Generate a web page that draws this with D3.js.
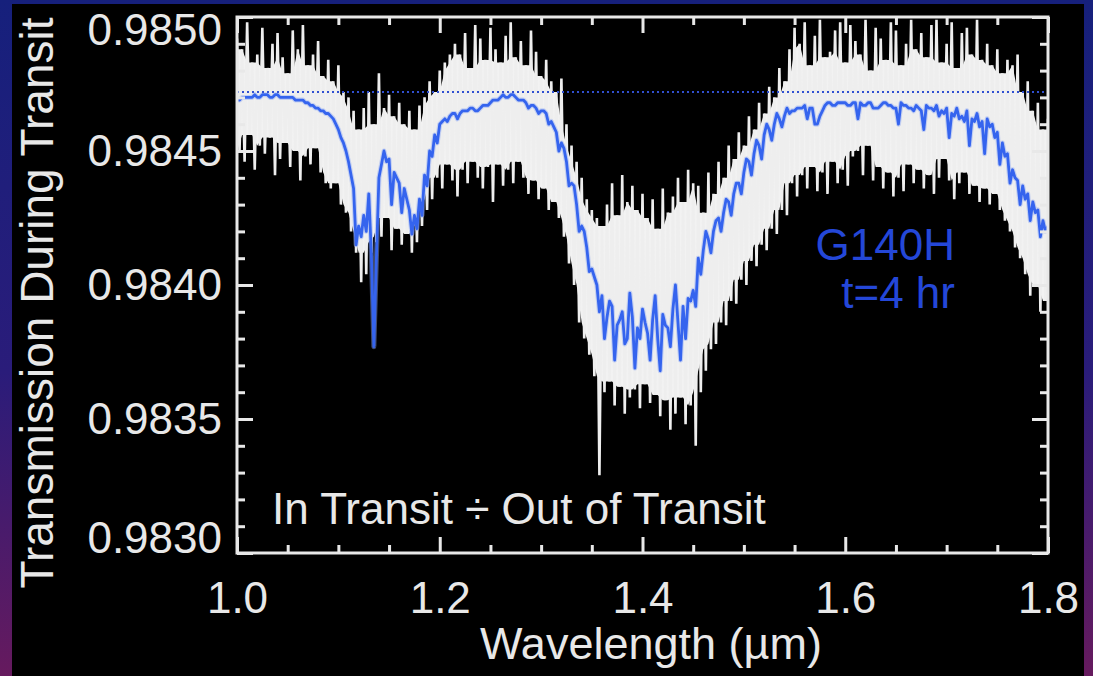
<!DOCTYPE html>
<html>
<head>
<meta charset="utf-8">
<script src="https://cdn.jsdelivr.net/npm/d3@7"></script>
<style>
  html, body { margin: 0; padding: 0; background: #000; overflow: hidden; }
  svg { display: block; }
  text { font-family: "Liberation Sans", Arial, Helvetica, sans-serif; }
</style>
</head>
<body>
<script>
// wavelength grid (micron), one sample every 0.005
const wavelength = d3.range(161).map(i => +(1 + i * 0.005).toFixed(3));

// in transit / out of transit, upper and lower excursion of the noisy spectrum
const whiteHi = [
  0.98492,0.98488,0.98498,0.98483,0.98486,0.98496,0.98481,0.98490,0.98494,0.98485,
  0.98479,0.98495,0.98488,0.98497,0.98482,0.98486,0.98491,0.98478,0.98484,0.98476,
  0.98482,0.98472,0.98470,0.98465,0.98458,0.98466,0.98472,0.98460,0.98479,0.98466,
  0.98471,0.98463,0.98468,0.98460,0.98465,0.98458,0.98467,0.98470,0.98476,0.98472,
  0.98480,0.98483,0.98486,0.98490,0.98486,0.98494,0.98481,0.98497,0.98492,0.98484,
  0.98496,0.98488,0.98483,0.98493,0.98498,0.98485,0.98491,0.98482,0.98495,0.98487,
  0.98478,0.98484,0.98476,0.98472,0.98477,0.98460,0.98452,0.98446,0.98440,0.98432,
  0.98428,0.98425,0.98422,0.98430,0.98438,0.98426,0.98441,0.98431,0.98437,0.98428,
  0.98434,0.98425,0.98432,0.98421,0.98436,0.98427,0.98433,0.98440,0.98431,0.98443,
  0.98438,0.98437,0.98427,0.98442,0.98434,0.98446,0.98440,0.98452,0.98447,0.98457,
  0.98452,0.98463,0.98458,0.98468,0.98464,0.98474,0.98470,0.98481,0.98476,0.98488,
  0.98496,0.98490,0.98498,0.98482,0.98493,0.98499,0.98485,0.98487,0.98495,0.98498,
  0.98483,0.98497,0.98491,0.98486,0.98499,0.98480,0.98496,0.98492,0.98484,0.98498,
  0.98495,0.98482,0.98490,0.98499,0.98488,0.98494,0.98485,0.98497,0.98499,0.98483,
  0.98490,0.98498,0.98481,0.98494,0.98496,0.98486,0.98499,0.98484,0.98490,0.98482,
  0.98488,0.98479,0.98484,0.98482,0.98486,0.98472,0.98476,0.98465,0.98468,0.98458,
  0.98462
];
const whiteLo = [
  0.98450,0.98446,0.98456,0.98443,0.98452,0.98449,0.98455,0.98441,0.98447,0.98453,
  0.98444,0.98450,0.98439,0.98448,0.98445,0.98451,0.98442,0.98438,0.98436,0.98438,
  0.98430,0.98427,0.98420,0.98412,0.98401,0.98404,0.98412,0.98416,0.98418,0.98425,
  0.98413,0.98421,0.98415,0.98419,0.98412,0.98416,0.98422,0.98428,0.98432,0.98440,
  0.98436,0.98445,0.98439,0.98433,0.98443,0.98438,0.98446,0.98440,0.98436,0.98444,
  0.98431,0.98445,0.98437,0.98443,0.98438,0.98446,0.98440,0.98434,0.98439,0.98432,
  0.98436,0.98428,0.98431,0.98425,0.98418,0.98408,0.98400,0.98386,0.98380,0.98374,
  0.98366,0.98329,0.98360,0.98364,0.98355,0.98362,0.98352,0.98358,0.98361,0.98354,
  0.98363,0.98356,0.98359,0.98351,0.98357,0.98346,0.98352,0.98358,0.98348,0.98355,
  0.98340,0.98360,0.98368,0.98376,0.98378,0.98386,0.98385,0.98394,0.98393,0.98402,
  0.98400,0.98409,0.98407,0.98415,0.98413,0.98421,0.98419,0.98428,0.98426,0.98438,
  0.98433,0.98441,0.98436,0.98444,0.98435,0.98442,0.98434,0.98446,0.98438,0.98443,
  0.98437,0.98448,0.98450,0.98441,0.98452,0.98439,0.98444,0.98436,0.98442,0.98433,
  0.98440,0.98435,0.98445,0.98438,0.98443,0.98436,0.98441,0.98434,0.98440,0.98447,
  0.98439,0.98432,0.98438,0.98442,0.98434,0.98437,0.98431,0.98436,0.98430,0.98434,
  0.98428,0.98424,0.98420,0.98414,0.98410,0.98404,0.98396,0.98400,0.98390,0.98394,
  0.98388
];
// model transmission (blue), on the grid and half a step after it
const model = [
  0.98469,0.98470,0.98470,0.98470,0.98470,0.98471,0.98471,0.98470,0.98471,0.98470,
  0.98470,0.98470,0.98469,0.98469,0.98468,0.98467,0.98466,0.98465,0.98464,0.98462,
  0.98458,0.98453,0.98446,0.98436,0.98422,0.98426,0.98434,0.98377,0.98440,0.98450,
  0.98447,0.98442,0.98438,0.98436,0.98428,0.98426,0.98432,0.98441,0.98450,0.98456,
  0.98460,0.98462,0.98463,0.98464,0.98464,0.98465,0.98466,0.98465,0.98466,0.98467,
  0.98468,0.98469,0.98470,0.98470,0.98471,0.98470,0.98469,0.98468,0.98467,0.98466,
  0.98465,0.98464,0.98461,0.98457,0.98453,0.98446,0.98438,0.98430,0.98422,0.98414,
  0.98406,0.98400,0.98396,0.98388,0.98392,0.98385,0.98390,0.98380,0.98388,0.98384,
  0.98391,0.98382,0.98387,0.98380,0.98389,0.98384,0.98391,0.98386,0.98392,0.98395,
  0.98398,0.98410,0.98413,0.98417,0.98420,0.98425,0.98427,0.98431,0.98434,0.98438,
  0.98442,0.98446,0.98449,0.98452,0.98456,0.98458,0.98460,0.98462,0.98463,0.98464,
  0.98465,0.98466,0.98467,0.98466,0.98460,0.98463,0.98467,0.98468,0.98467,0.98468,
  0.98468,0.98467,0.98468,0.98468,0.98467,0.98468,0.98466,0.98467,0.98468,0.98467,
  0.98466,0.98468,0.98467,0.98466,0.98467,0.98465,0.98467,0.98466,0.98467,0.98465,
  0.98466,0.98464,0.98466,0.98463,0.98465,0.98462,0.98464,0.98461,0.98462,0.98460,
  0.98457,0.98453,0.98449,0.98443,0.98439,0.98437,0.98434,0.98431,0.98428,0.98424,
  0.98422
];
const modelMid = [
  0.98469,0.98470,0.98470,0.98471,0.98470,0.98471,0.98470,0.98471,0.98470,0.98470,
  0.98470,0.98469,0.98469,0.98468,0.98467,0.98466,0.98465,0.98464,0.98463,0.98460,
  0.98455,0.98450,0.98441,0.98415,0.98418,0.98420,0.98412,0.98410,0.98445,0.98446,
  0.98430,0.98440,0.98427,0.98432,0.98419,0.98421,0.98426,0.98437,0.98448,0.98453,
  0.98461,0.98461,0.98464,0.98462,0.98465,0.98465,0.98466,0.98465,0.98467,0.98467,
  0.98469,0.98469,0.98471,0.98470,0.98471,0.98469,0.98469,0.98466,0.98467,0.98464,
  0.98465,0.98460,0.98459,0.98450,0.98451,0.98437,0.98437,0.98420,0.98420,0.98405,
  0.98403,0.98390,0.98380,0.98394,0.98372,0.98387,0.98378,0.98397,0.98369,0.98380,
  0.98386,0.98372,0.98396,0.98368,0.98385,0.98377,0.98400,0.98372,0.98380,0.98394,
  0.98392,0.98404,0.98420,0.98412,0.98424,0.98420,0.98432,0.98426,0.98438,0.98434,
  0.98447,0.98441,0.98454,0.98447,0.98460,0.98454,0.98464,0.98459,0.98466,0.98465,
  0.98466,0.98466,0.98462,0.98466,0.98460,0.98465,0.98468,0.98467,0.98468,0.98468,
  0.98467,0.98468,0.98462,0.98467,0.98468,0.98466,0.98466,0.98468,0.98467,0.98466,
  0.98460,0.98467,0.98466,0.98465,0.98466,0.98458,0.98466,0.98465,0.98463,0.98464,
  0.98455,0.98463,0.98462,0.98461,0.98452,0.98461,0.98459,0.98449,0.98459,0.98455,
  0.98445,0.98448,0.98438,0.98440,0.98430,0.98432,0.98424,0.98427,0.98418,0.98420
];
const outOfTransitLevel = 0.98472;

const xMajor = [1.0, 1.2, 1.4, 1.6, 1.8];
const yMajor = [0.9830, 0.9835, 0.9840, 0.9845, 0.9850];

const W = 1093, H = 676;
const svg = d3.select("body").append("svg").attr("width", W).attr("height", H);

// slide background
const defs = svg.append("defs");
const grad = defs.append("linearGradient")
  .attr("id", "slide").attr("x1", 0).attr("y1", 0).attr("x2", 0).attr("y2", 1);
grad.append("stop").attr("offset", "0%").attr("stop-color", "#16207c");
grad.append("stop").attr("offset", "55%").attr("stop-color", "#2a1c7a");
grad.append("stop").attr("offset", "100%").attr("stop-color", "#661a5e");
svg.append("rect").attr("width", W).attr("height", H).attr("fill", "url(#slide)");
svg.append("rect").attr("x", 12).attr("y", 4).attr("width", 1072).attr("height", 672).attr("fill", "#000");

const x = d3.scaleLinear().domain([1.0, 1.8]).range([237, 1048]);
const y = d3.scaleLinear().domain([0.9830, 0.9850]).range([553, 17]);

defs.append("clipPath").attr("id", "plot")
  .append("rect").attr("x", x(1.0)).attr("y", y(0.9850))
  .attr("width", x(1.8) - x(1.0)).attr("height", y(0.9830) - y(0.9850));

const plot = svg.append("g").attr("clip-path", "url(#plot)");

// solid core of the noisy spectrum: inner envelope of neighbouring excursions
const win = i => d3.range(Math.max(0, i - 1), Math.min(wavelength.length, i + 2));
const core = wavelength.map((w, i) => ({
  w,
  top: d3.min(win(i), j => whiteHi[j]),
  bot: d3.max(win(i), j => whiteLo[j])
}));
plot.append("path").datum(core)
  .attr("d", d3.area().x(d => x(d.w)).y0(d => y(d.bot)).y1(d => y(d.top)))
  .attr("fill", "#f2f2f2");

// excursions drawn as hi/lo zigzag
const spec = wavelength.flatMap((w, i) => [[w, whiteHi[i]], [w + 0.0025, whiteLo[i]]]);
const line = d3.line().x(d => x(d[0])).y(d => y(d[1]));
plot.append("path").datum(spec)
  .attr("d", line)
  .attr("fill", "none")
  .attr("stroke", "#eeeeee")
  .attr("stroke-width", 2.6);

const modelPts = wavelength.flatMap((w, i) =>
  i < modelMid.length ? [[w, model[i]], [w + 0.0025, modelMid[i]]] : [[w, model[i]]]);
plot.append("path").datum(modelPts)
  .attr("d", line)
  .attr("fill", "none")
  .attr("stroke", "#8fa8f5")
  .attr("stroke-width", 5)
  .attr("stroke-opacity", 0.45)
  .attr("stroke-linejoin", "round");
plot.append("path").datum(modelPts)
  .attr("d", line)
  .attr("fill", "none")
  .attr("stroke", "#3564ee")
  .attr("stroke-width", 2.8)
  .attr("stroke-linejoin", "round");

plot.append("line")
  .attr("x1", x(1.0)).attr("x2", x(1.8))
  .attr("y1", y(outOfTransitLevel)).attr("y2", y(outOfTransitLevel))
  .attr("stroke", "#3050d2")
  .attr("stroke-width", 2)
  .attr("stroke-dasharray", "2,3");

// axes
const axisColor = "#e8e8e8";
function styleAxis(g) {
  g.attr("color", axisColor);
  g.select(".domain").remove();
  g.selectAll("line").attr("stroke-width", 3);
  g.selectAll("text").attr("font-size", 44).attr("font-family", "Liberation Sans, Arial, sans-serif");
}
const xMinor = d3.range(1.0, 1.8001, 0.05).filter(v => !xMajor.some(m => Math.abs(m - v) < 1e-6));
const yMinor = d3.range(0.9830, 0.98501, 0.0001).filter(v => !yMajor.some(m => Math.abs(m - v) < 1e-7));

svg.append("g").attr("transform", `translate(0,${y(0.9830)})`)
  .call(d3.axisBottom(x).tickValues(xMajor).tickFormat(d3.format(".1f")).tickSize(-16).tickPadding(29))
  .call(styleAxis);
svg.append("g").attr("transform", `translate(0,${y(0.9830)})`)
  .call(d3.axisBottom(x).tickValues(xMinor).tickFormat("").tickSize(-8))
  .call(styleAxis);
svg.append("g").attr("transform", `translate(0,${y(0.9850)})`)
  .call(d3.axisTop(x).tickValues(xMajor).tickFormat("").tickSize(-16))
  .call(styleAxis);
svg.append("g").attr("transform", `translate(0,${y(0.9850)})`)
  .call(d3.axisTop(x).tickValues(xMinor).tickFormat("").tickSize(-8))
  .call(styleAxis);

const yAxis = svg.append("g").attr("transform", `translate(${x(1.0)},0)`)
  .call(d3.axisLeft(y).tickValues(yMajor).tickFormat(d3.format(".4f")).tickSize(-16).tickPadding(15))
  .call(styleAxis);
yAxis.selectAll("text")
  .attr("dy", d => d === 0.9850 ? "27px" : d === 0.9830 ? "-1px" : "0.32em");
svg.append("g").attr("transform", `translate(${x(1.0)},0)`)
  .call(d3.axisLeft(y).tickValues(yMinor).tickFormat("").tickSize(-8))
  .call(styleAxis);
svg.append("g").attr("transform", `translate(${x(1.8)},0)`)
  .call(d3.axisRight(y).tickValues(yMajor).tickFormat("").tickSize(-16))
  .call(styleAxis);
svg.append("g").attr("transform", `translate(${x(1.8)},0)`)
  .call(d3.axisRight(y).tickValues(yMinor).tickFormat("").tickSize(-8))
  .call(styleAxis);

// frame
svg.append("rect")
  .attr("x", x(1.0)).attr("y", y(0.9850))
  .attr("width", x(1.8) - x(1.0)).attr("height", y(0.9830) - y(0.9850))
  .attr("fill", "none").attr("stroke", axisColor).attr("stroke-width", 3);

// titles
svg.append("text")
  .attr("transform", "translate(53,303) rotate(-90)")
  .attr("text-anchor", "middle")
  .attr("font-size", 46)
  .attr("fill", axisColor)
  .text("Transmission During Transit");

svg.append("text")
  .attr("x", 651).attr("y", 659)
  .attr("text-anchor", "middle")
  .attr("font-size", 45)
  .attr("fill", axisColor)
  .text("Wavelength (\u00b5m)");

svg.append("text")
  .attr("x", 272).attr("y", 524)
  .attr("font-size", 44)
  .attr("fill", axisColor)
  .text("In Transit \u00f7 Out of Transit");

const label = svg.append("text")
  .attr("text-anchor", "end")
  .attr("font-size", 44)
  .attr("fill", "#2447d8");
label.append("tspan").attr("x", 955).attr("y", 260).text("G140H");
label.append("tspan").attr("x", 955).attr("y", 308).text("t=4 hr");
</script>
</body>
</html>
